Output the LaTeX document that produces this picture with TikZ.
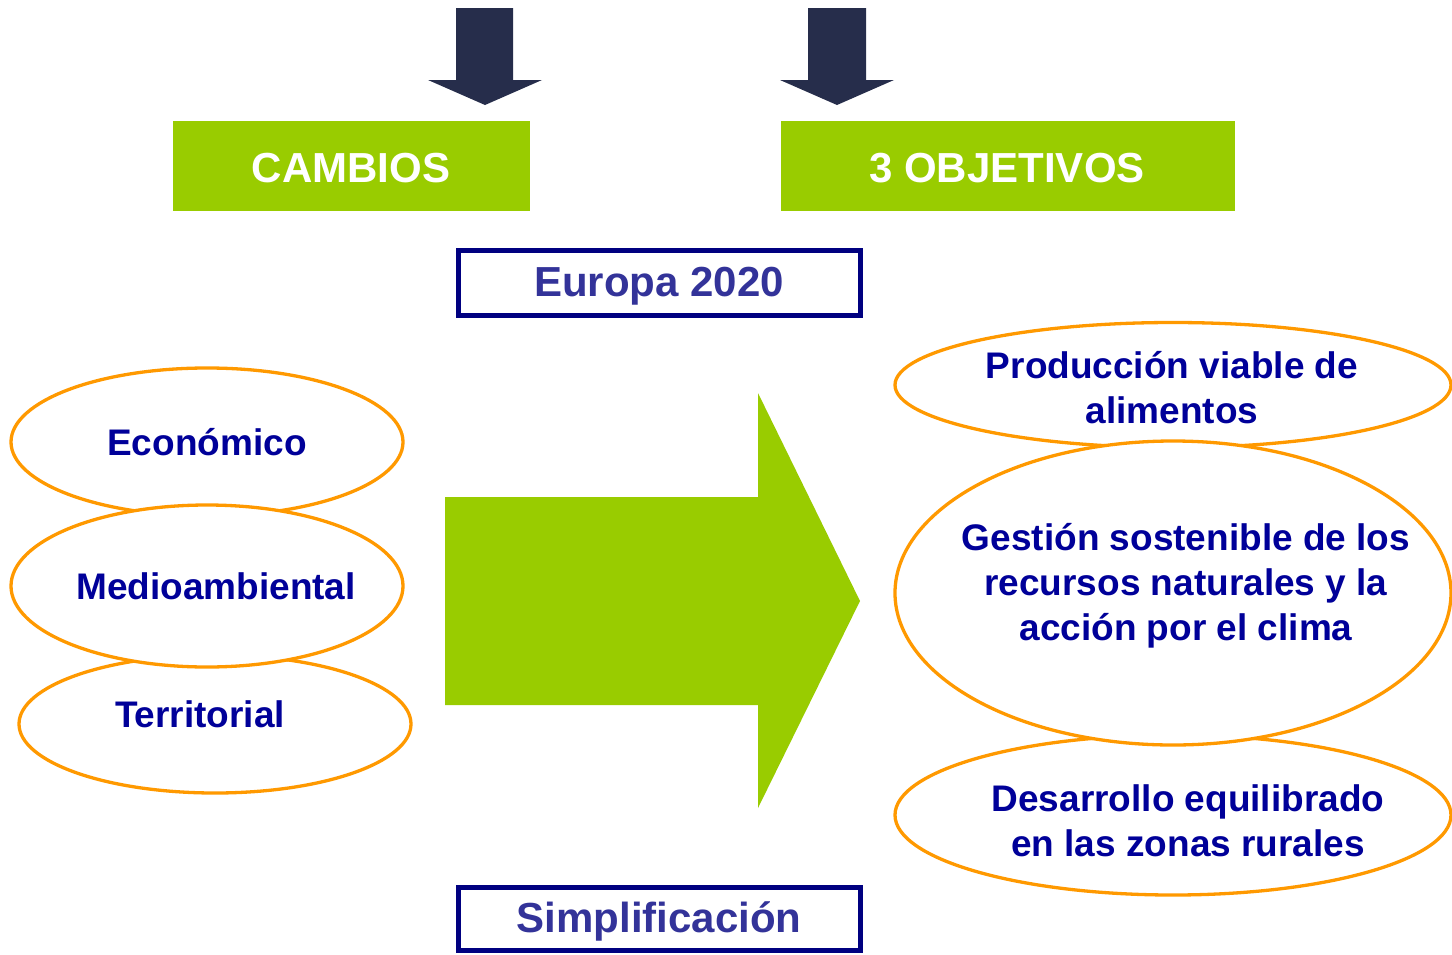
\documentclass[tikz,border=0pt]{standalone}
\usepackage{fontspec}
\setmainfont{Liberation Sans}
\usetikzlibrary{shapes.geometric}
\definecolor{navyarrow}{HTML}{262D4B}
\definecolor{lime}{HTML}{99CC00}
\definecolor{boxnavy}{HTML}{000080}
\definecolor{eurotxt}{HTML}{333399}
\definecolor{ovaltxt}{HTML}{000099}
\definecolor{ovalline}{HTML}{FF9900}
\tikzset{
  greenbox/.style={fill=lime, draw=none, inner sep=0pt},
  greentext/.style={text=white, inner sep=0pt, font=\bfseries\fontsize{42}{48}\selectfont},
  framebox/.style={draw=boxnavy, line width=5pt, fill=white, inner sep=0pt},
  frametext/.style={text=eurotxt, inner sep=0pt, font=\bfseries\fontsize{42}{50}\selectfont},
  oval/.style={ellipse, draw=ovalline, line width=3.3pt, fill=white, inner sep=0pt},
  ovaltext/.style={text=ovaltxt, align=center, inner sep=0pt, font=\bfseries\fontsize{37}{45}\selectfont},
  downarrow/.style={fill=navyarrow, draw=none}
}
\begin{document}
\begin{tikzpicture}[x=1pt,y=-1pt]
\useasboundingbox (0,0) rectangle (1452,954);
% top arrows
\fill[downarrow] (456,8) -- (513,8) -- (513,80) -- (542,80) -- (485,105) -- (428,80) -- (456,80) -- cycle;
\fill[downarrow] (808,8) -- (866,8) -- (866,80) -- (894,80) -- (837,105) -- (780,80) -- (808,80) -- cycle;
% green boxes
\node[greenbox, minimum width=357pt, minimum height=90pt] (cambios) at (351.5,166) {};
\node[greenbox, minimum width=454pt, minimum height=90pt] (objetivos) at (1008,166) {};
\node[greentext] (cambiost) at (351,168.5) {CAMBIOS};
\node[greentext] (objetivost) at (1007,168.5) {3 OBJETIVOS};
% framed boxes
\node[framebox, minimum width=402pt, minimum height=65pt] (europa) at (659,282.5) {};
\node[framebox, minimum width=402pt, minimum height=63pt] (simpl) at (659,918.5) {};
\node[frametext] (europat) at (659,286) {Europa 2020};
\node[frametext] (simplt) at (659,921.5) {Simplificación};
% big arrow
\fill[lime] (445,497) -- (758,497) -- (758,393) -- (860,601) -- (758,808) -- (758,705) -- (445,705) -- cycle;
% left ovals
\node[oval, minimum width=392pt, minimum height=148pt] (eco) at (207,442) {};
\node[oval, minimum width=392pt, minimum height=138pt] (terr) at (215,724) {};
\node[oval, minimum width=392pt, minimum height=162pt] (medio) at (207,586) {};
\node[ovaltext] (ecot) at (207,442) {Económico};
\node[ovaltext] (mediot) at (216,586) {Medioambiental};
\node[ovaltext] (terrt) at (200,714) {Territorial};
% right ovals
\node[oval, minimum width=556pt, minimum height=125pt] (prod) at (1173,385) {};
\node[oval, minimum width=556pt, minimum height=160pt] (desa) at (1173,815) {};
\node[oval, minimum width=556pt, minimum height=304pt] (gest) at (1173,593) {};
\node[ovaltext] (prodt) at (1172,388) {Producción viable de\\alimentos};
\node[ovaltext] (gestt) at (1186,586) {Gestión sostenible de los\\recursos naturales y la\\acción por el clima};
\node[ovaltext] (desat) at (1188,821) {Desarrollo equilibrado\\en las zonas rurales};
\end{tikzpicture}
\end{document}
